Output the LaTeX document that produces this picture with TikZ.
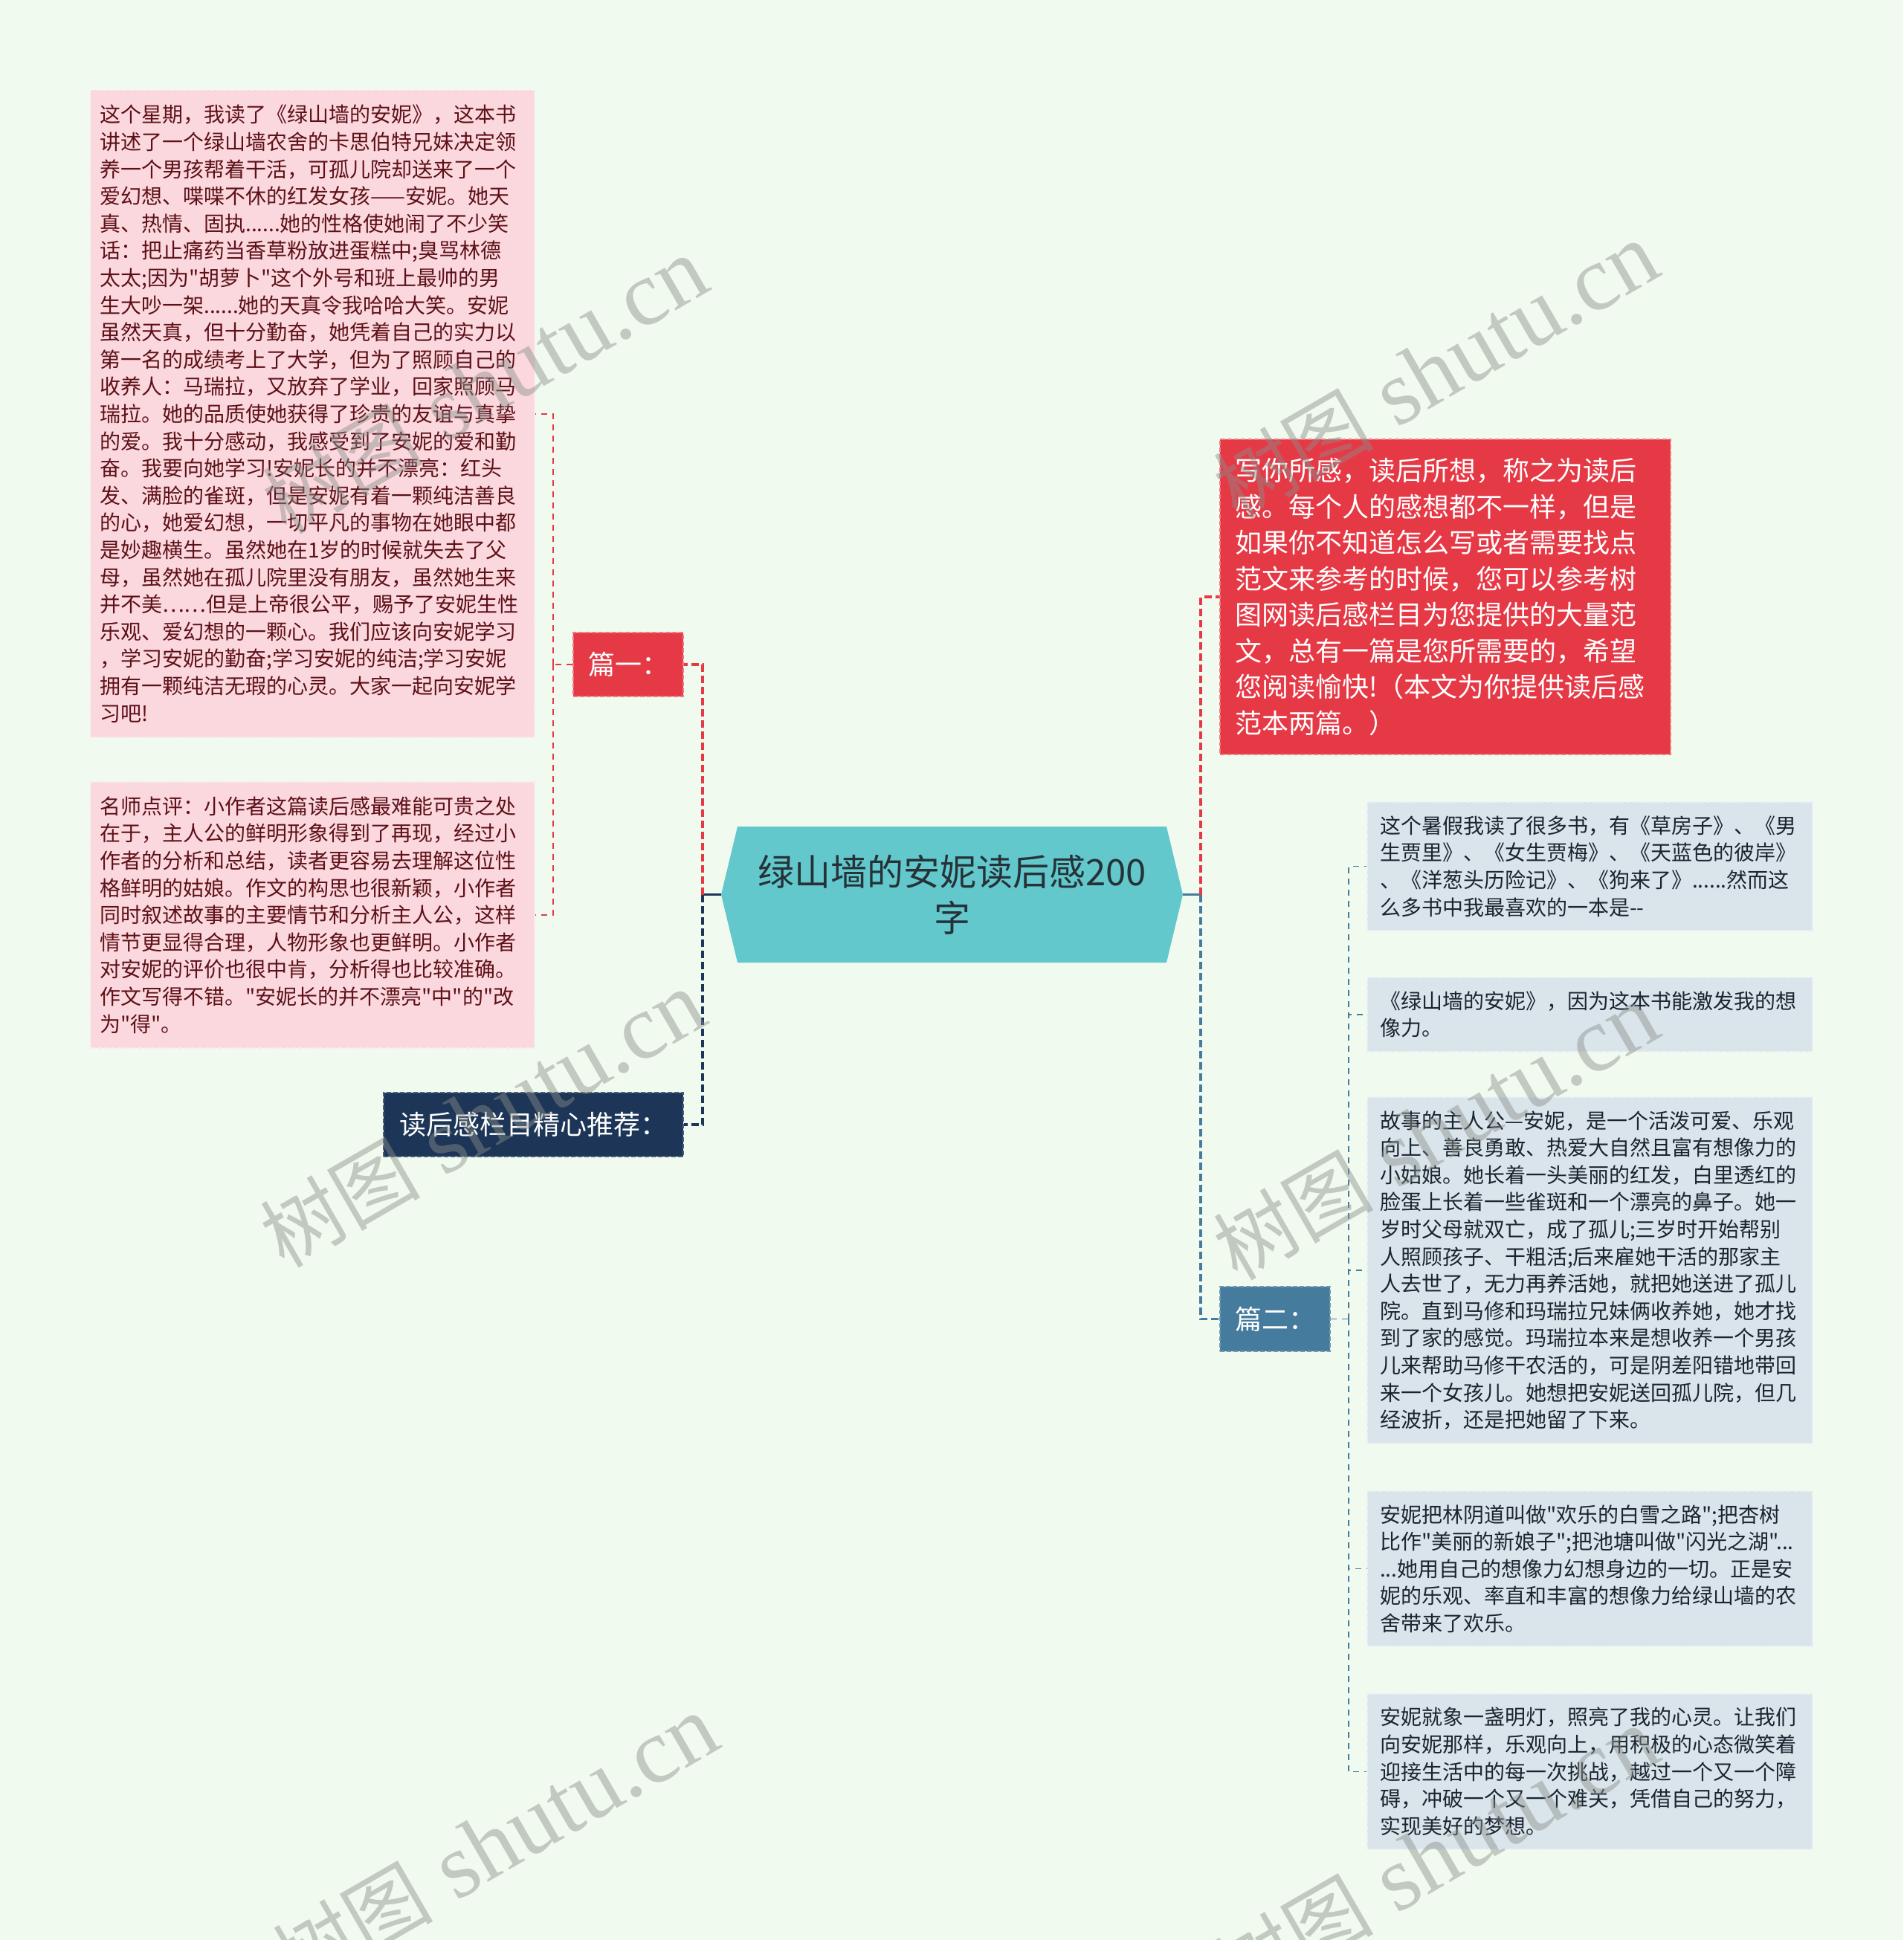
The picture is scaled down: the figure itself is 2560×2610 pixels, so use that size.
\documentclass[tikz,border=0pt]{standalone}
\usepackage{fontspec}
\setmainfont{Noto Sans CJK SC}[Ligatures=TeXOff]
\newfontfamily\wmfont{Liberation Serif}
\newfontfamily\wmcjk{Noto Sans CJK SC}[Ligatures=TeXOff]
\definecolor{bgC}{HTML}{F1FAEE}
\definecolor{pinkF}{HTML}{FAD8DD}
\definecolor{pinkB}{HTML}{FCE9EC}
\definecolor{pinkT}{HTML}{5E1018}
\definecolor{blueF}{HTML}{DAE4EB}
\definecolor{blueB}{HTML}{EBF1F5}
\definecolor{blueT}{HTML}{1A2530}
\definecolor{redC}{HTML}{E63946}
\definecolor{redB}{HTML}{EF7A84}
\definecolor{navyC}{HTML}{1D3557}
\definecolor{navyB}{HTML}{4A5E7C}
\definecolor{blueC}{HTML}{457B9D}
\definecolor{blueCB}{HTML}{6F98B2}
\definecolor{ctrF}{HTML}{63C8CC}
\definecolor{ctrT}{HTML}{263238}
\definecolor{wmC}{HTML}{8A8F8A}
\begin{document}
\begin{tikzpicture}[x=0.5pt,y=-0.5pt,
  box/.style={rectangle, inner sep=0pt, align=left, dash pattern=on 3pt off 1.5pt, line width=0.7pt},
  pinkbox/.style={box, fill=pinkF, draw=pinkB, text=pinkT, text width=286pt, minimum width=298.75pt, font=\fontsize{14pt}{18.3pt}\selectfont},
  bluebox/.style={box, fill=blueF, draw=blueB, text=blueT, text width=282.5pt, minimum width=299.5pt, font=\fontsize{14pt}{18.3pt}\selectfont},
  redbox/.style={box, fill=redC, draw=redB, text=white, text width=283pt, minimum width=303pt, font=\fontsize{18pt}{24.25pt}\selectfont},
  tagbox/.style={rectangle, inner sep=0pt, align=center, text=white, minimum height=43pt, dash pattern=on 3pt off 1.5pt, line width=0.7pt, font=\fontsize{18pt}{22pt}\selectfont},
  ctrnode/.style={rectangle, inner sep=0pt, minimum width=310.5pt, minimum height=91.5pt, align=center, text=ctrT, font=\fontsize{24.5pt}{31pt}\selectfont,
    path picture={\fill[ctrF] (path picture bounding box.west) -- ([xshift=11pt]path picture bounding box.north west) -- ([xshift=-11pt]path picture bounding box.north east) -- (path picture bounding box.east) -- ([xshift=-11pt]path picture bounding box.south east) -- ([xshift=11pt]path picture bounding box.south west) -- cycle;}},
  conn/.style={dash pattern=on 5pt off 2.5pt, line width=1.6pt},
  thinconn/.style={dash pattern=on 4pt off 3.5pt, line width=0.9pt},
  wm/.style={text=wmC, opacity=0.45, rotate=30, inner sep=0pt, font=\wmfont\fontsize{62pt}{62pt}\selectfont}
]
\fill[bgC] (0,0) rectangle (2560,2610);
\useasboundingbox (0,0) rectangle (2560,2610);

% central
\node[ctrnode] (ctr) at (1280.5,1203.5) {绿山墙的安妮读后感200\\字};

% left
\node[tagbox, fill=redC, draw=redB, minimum width=74pt] (p1) at (845,894) {篇一：};
\node[tagbox, fill=navyC, draw=navyB, minimum width=201.5pt] (rec) at (717.5,1513) {读后感栏目精心推荐：};

\node[pinkbox, minimum height=435.25pt] (pk1) at (420.25,556.75) {这个星期，我读了《绿山墙的安妮》，这本书\\
讲述了一个绿山墙农舍的卡思伯特兄妹决定领\\
养一个男孩帮着干活，可孤儿院却送来了一个\\
爱幻想、喋喋不休的红发女孩——安妮。她天\\
真、热情、固执......她的性格使她闹了不少笑\\
话：把止痛药当香草粉放进蛋糕中;臭骂林德\\
太太;因为"胡萝卜"这个外号和班上最帅的男\\
生大吵一架......她的天真令我哈哈大笑。安妮\\
虽然天真，但十分勤奋，她凭着自己的实力以\\
第一名的成绩考上了大学，但为了照顾自己的\\
收养人：马瑞拉，又放弃了学业，回家照顾马\\
瑞拉。她的品质使她获得了珍贵的友谊与真挚\\
的爱。我十分感动，我感受到了安妮的爱和勤\\
奋。我要向她学习!安妮长的并不漂亮：红头\\
发、满脸的雀斑，但是安妮有着一颗纯洁善良\\
的心，她爱幻想，一切平凡的事物在她眼中都\\
是妙趣横生。虽然她在1岁的时候就失去了父\\
母，虽然她在孤儿院里没有朋友，虽然她生来\\
并不美……但是上帝很公平，赐予了安妮生性\\
乐观、爱幻想的一颗心。我们应该向安妮学习\\
，学习安妮的勤奋;学习安妮的纯洁;学习安妮\\
拥有一颗纯洁无瑕的心灵。大家一起向安妮学\\
习吧!};

\node[pinkbox, minimum height=179pt] (pk2) at (420.25,1231) {名师点评：小作者这篇读后感最难能可贵之处\\
在于，主人公的鲜明形象得到了再现，经过小\\
作者的分析和总结，读者更容易去理解这位性\\
格鲜明的姑娘。作文的构思也很新颖，小作者\\
同时叙述故事的主要情节和分析主人公，这样\\
情节更显得合理，人物形象也更鲜明。小作者\\
对安妮的评价也很中肯，分析得也比较准确。\\
作文写得不错。"安妮长的并不漂亮"中"的"改\\
为"得"。};

% right
\node[redbox, minimum height=212pt] (intro) at (1944,803) {写你所感，读后所想，称之为读后\\
感。每个人的感想都不一样，但是\\
如果你不知道怎么写或者需要找点\\
范文来参考的时候，您可以参考树\\
图网读后感栏目为您提供的大量范\\
文，总有一篇是您所需要的，希望\\
您阅读愉快!（本文为你提供读后感\\
范本两篇。）};

\node[tagbox, fill=blueC, draw=blueCB, minimum width=74pt, minimum height=43.5pt] (p2) at (1715,1774.5) {篇二：};

\node[bluebox, minimum height=86.5pt] (ba) at (2138.5,1165.5) {这个暑假我读了很多书，有《草房子》、《男\\
生贾里》、《女生贾梅》、《天蓝色的彼岸》\\
、《洋葱头历险记》、《狗来了》......然而这\\
么多书中我最喜欢的一本是--};

\node[bluebox, minimum height=50pt] (bb) at (2138.5,1365) {《绿山墙的安妮》，因为这本书能激发我的想\\
像力。};

\node[bluebox, minimum height=233pt] (bc) at (2138.5,1709) {故事的主人公—安妮，是一个活泼可爱、乐观\\
向上、善良勇敢、热爱大自然且富有想像力的\\
小姑娘。她长着一头美丽的红发，白里透红的\\
脸蛋上长着一些雀斑和一个漂亮的鼻子。她一\\
岁时父母就双亡，成了孤儿;三岁时开始帮别\\
人照顾孩子、干粗活;后来雇她干活的那家主\\
人去世了，无力再养活她，就把她送进了孤儿\\
院。直到马修和玛瑞拉兄妹俩收养她，她才找\\
到了家的感觉。玛瑞拉本来是想收养一个男孩\\
儿来帮助马修干农活的，可是阴差阳错地带回\\
来一个女孩儿。她想把安妮送回孤儿院，但几\\
经波折，还是把她留了下来。};

\node[bluebox, minimum height=104.5pt] (bd) at (2138.5,2110.5) {安妮把林阴道叫做"欢乐的白雪之路";把杏树\\
比作"美丽的新娘子";把池塘叫做"闪光之湖"...\\
...她用自己的想像力幻想身边的一切。正是安\\
妮的乐观、率直和丰富的想像力给绿山墙的农\\
舍带来了欢乐。};

\node[bluebox, minimum height=104.5pt] (be) at (2138.5,2383.5) {安妮就象一盏明灯，照亮了我的心灵。让我们\\
向安妮那样，乐观向上，用积极的心态微笑着\\
迎接生活中的每一次挑战，越过一个又一个障\\
碍，冲破一个又一个难关，凭借自己的努力，\\
实现美好的梦想。};

% connectors
\coordinate (lt) at (945,1203.5);
\coordinate (rt) at (1615,1203.5);
\coordinate (lp) at (744,894);
\coordinate (rp) at (1814,1774.5);
\draw[line width=1.6pt, navyC] (ctr.west) -- (lt);
\draw[line width=1.6pt, blueC] (ctr.east) -- (rt);
\draw[conn, redC] (lt) |- (p1.east);
\draw[conn, navyC] (lt) |- (rec.east);
\draw[conn, redC] (rt) |- (intro.west);
\draw[conn, blueC] (rt) |- (p2.west);
\draw[thinconn, redC] (p1.west) -- (lp);
\draw[thinconn, redC] (lp) |- (pk1.east);
\draw[thinconn, redC] (lp) |- (pk2.east);
\draw[thinconn, blueC] (p2.east) -- (rp);
\foreach \b in {ba,bb,bc,bd,be} {\draw[thinconn, blueC] (rp) |- (\b.west);}

% watermarks
\foreach \p/\q in {652/519, 1931/499, 649/1506, 1931/1523, 666/2480, 1931/2497} {
  \node[wm] at (\p,\q) {{\wmcjk\fontsize{54pt}{54pt}\selectfont 树图}~shutu.cn};
}
\end{tikzpicture}
\end{document}
